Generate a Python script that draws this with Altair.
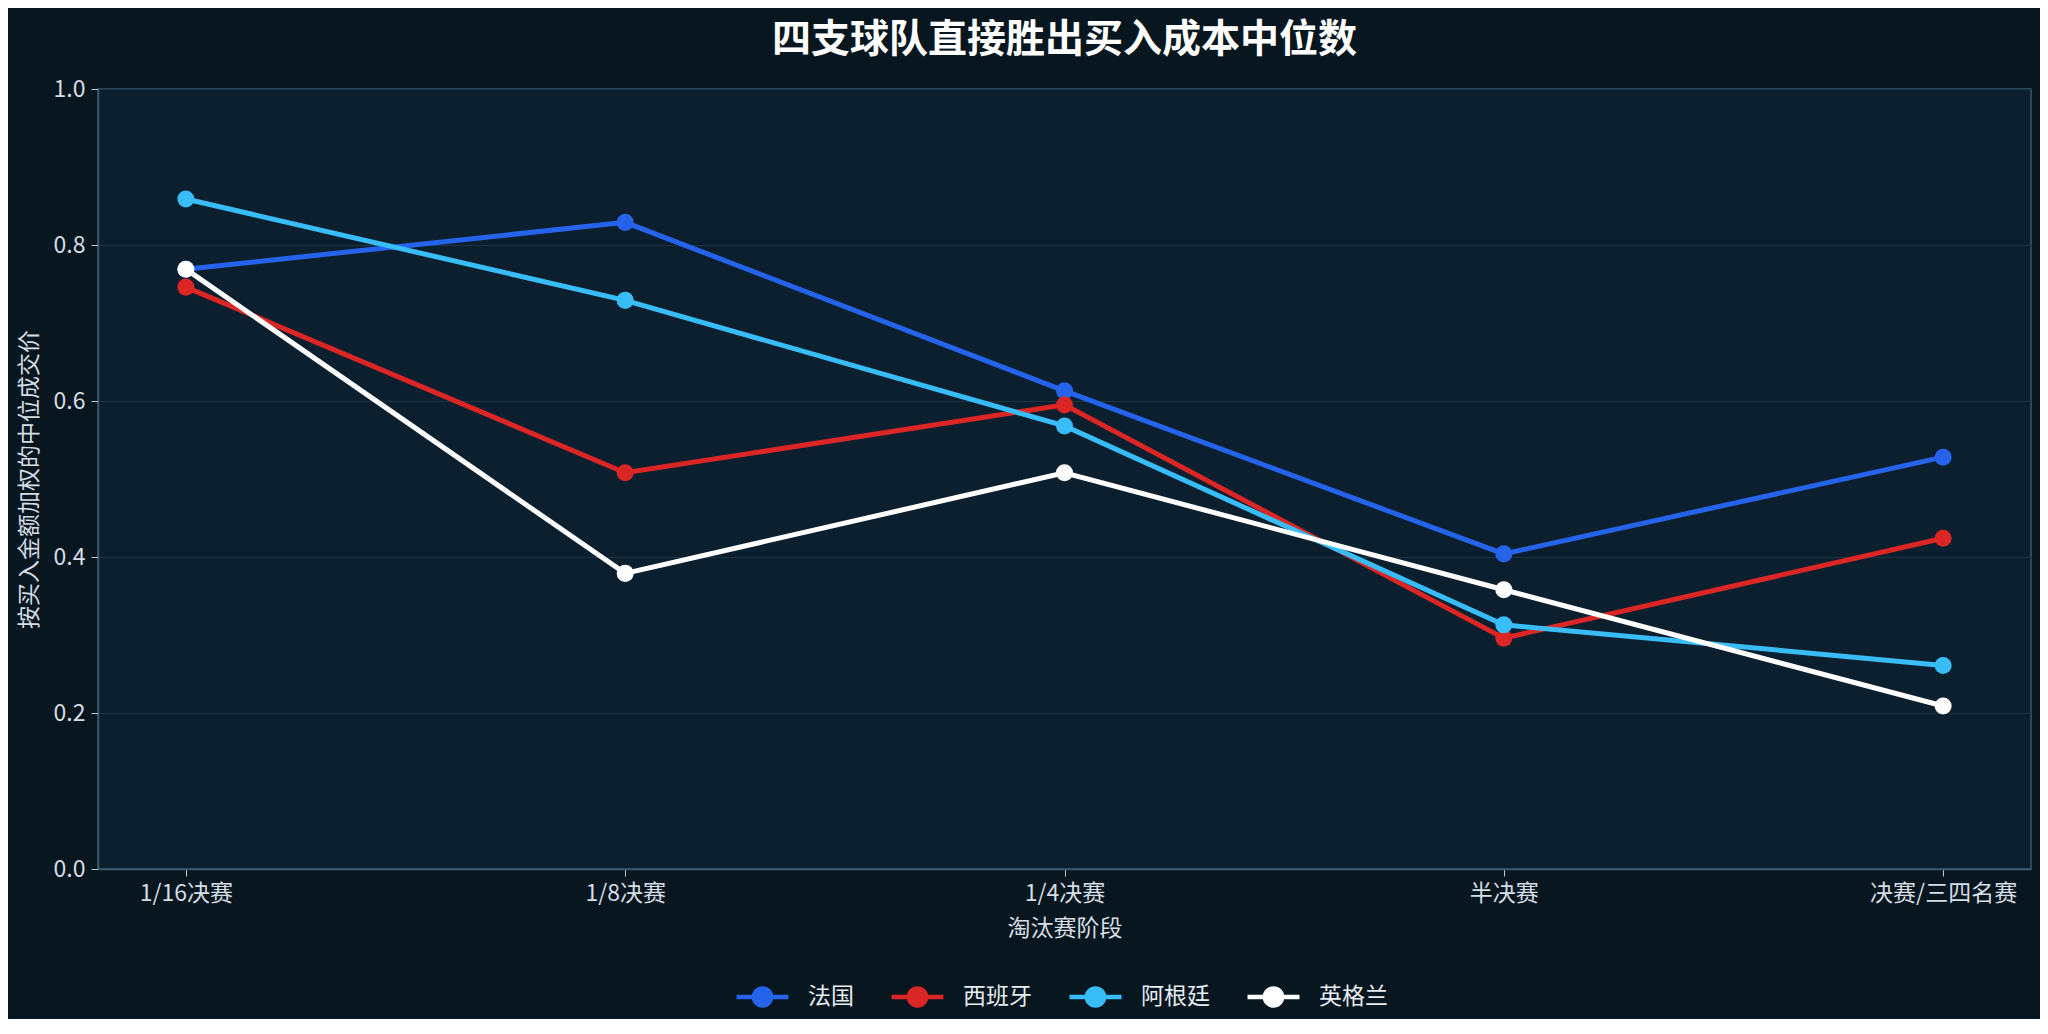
import altair as alt
import pandas as pd

stages = ["1/16决赛", "1/8决赛", "1/4决赛", "半决赛", "决赛/三四名赛"]
teams = ["法国", "西班牙", "阿根廷", "英格兰"]
colors = ["#2563eb", "#dc2626", "#38bdf8", "#ffffff"]
france = [0.769, 0.829, 0.613, 0.404, 0.528]
spain = [0.746, 0.508, 0.595, 0.296, 0.424]
argentina = [0.859, 0.729, 0.568, 0.313, 0.261]
england = [0.769, 0.379, 0.508, 0.358, 0.209]

rows = []
for team, vals in zip(teams, [france, spain, argentina, england]):
    for s, v in zip(stages, vals):
        rows.append({"stage": s, "team": team, "value": v})
df = pd.DataFrame(rows)

FONT = "Noto Sans CJK SC"

color_scale = alt.Scale(domain=teams, range=colors)
x = alt.X("stage:N", sort=stages, title="淘汰赛阶段",
          scale=alt.Scale(type="point", padding=0.2),
          axis=alt.Axis(labelAngle=0, grid=False))
y = alt.Y("value:Q", title="按买入金额加权的中位成交价",
          scale=alt.Scale(domain=[0, 1]),
          axis=alt.Axis(values=[0, 0.2, 0.4, 0.6, 0.8, 1.0], format=".1f"))

sym_path = "M-1,0L1,0M-0.33,0A0.33,0.33 0 1,0 0.33,0A0.33,0.33 0 1,0 -0.33,0Z"

lines = alt.Chart(df).mark_line(
    strokeWidth=5,
    point=alt.OverlayMarkDef(filled=True, size=290, opacity=1),
).encode(
    x=x, y=y,
    color=alt.Color("team:N", scale=color_scale, sort=teams, title=None,
                    legend=alt.Legend(orient="none", direction="horizontal",
                                      legendX=636, legendY=879,
                                      symbolType=sym_path, symbolSize=2700,
                                      symbolStrokeWidth=4.5,
                                      labelFontSize=23, labelColor="#e6edf3",
                                      labelFont=FONT, columnPadding=28,
                                      labelOffset=17)),
)

chart = lines.properties(
    width=1933, height=780,
    background="#08161f",
    padding={"left": 90, "top": 81, "right": 9, "bottom": 150},
    autosize=alt.AutoSizeParams(type="none"),
    title=alt.Title("四支球队直接胜出买入成本中位数", fontSize=39, fontWeight="bold",
                    color="#ffffff", font=FONT, anchor="middle", offset=18),
).configure_view(
    fill="#0b1f2e", stroke="#3d5a6e", strokeWidth=1.5,
).configure_axis(
    labelFont=FONT, titleFont=FONT, labelFontSize=23, titleFontSize=23,
    labelColor="#d5dde5", titleColor="#d5dde5", titleFontWeight="normal",
    gridColor="#1b3546", gridWidth=1.2, domainColor="#3d5a6e", domainWidth=1.5,
    tickColor="#c0c8d0", tickSize=7, labelPadding=6, titlePadding=12,
)

chart.save("out.html", embed_options={"renderer": "svg", "actions": False})
